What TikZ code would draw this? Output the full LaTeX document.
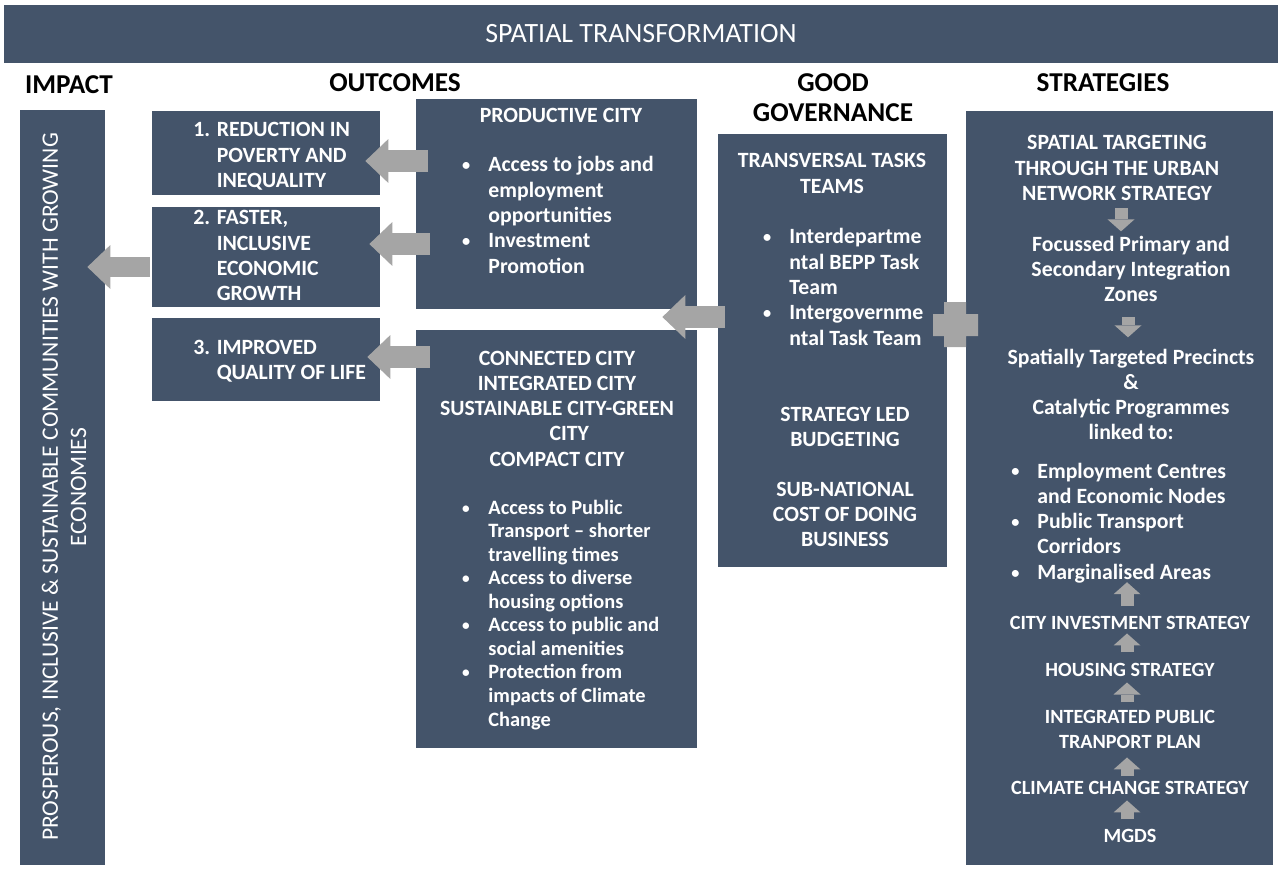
\documentclass[tikz,border=0pt]{standalone}
\usepackage{fontspec}
\setmainfont{Carlito}
\usetikzlibrary{arrows.meta,calc,positioning}
\definecolor{boxblue}{HTML}{44546A}
\definecolor{arrowgray}{HTML}{A5A5A5}
\newlength{\pxu}\setlength{\pxu}{0.02cm}
\newcommand{\itm}{\makebox[15.4pt][l]{\hspace*{0.5pt}\raisebox{0.6pt}{\scalebox{0.75}{\textbullet}}}}
\newcommand{\cnt}{\hspace*{15.4pt}}

\begin{document}
\begin{tikzpicture}[x=0.02cm, y=-0.02cm,
  box/.style={fill=boxblue, inner sep=0pt},
  txt/.style={text=white, inner sep=0pt, font=\bfseries\fontsize{12.4}{14.4}\selectfont},
  lst/.style={txt, align=left, anchor=base west},
  mid/.style={txt, align=center, anchor=base},
  lowcap/.style={font=\bfseries\fontsize{11.5}{14.2}\selectfont},
  head/.style={inner sep=0pt, align=center, font=\bfseries\fontsize{15.5}{17}\selectfont},
  bigarrow/.style={draw=arrowgray, line width=0.44cm, -{Triangle[length=0.46cm, width=0.88cm, line width=0pt]}},
  smallarrow/.style={draw=arrowgray, line width=0.26cm, -{Triangle[length=0.24cm, width=0.54cm, line width=0pt]}}]
  \useasboundingbox (0,0) rectangle (1283,878);

  % title bar and column heads
  \node[box, minimum width=1274\pxu, minimum height=58\pxu] (ttlbar) at (641,34) {};
  \node[text=white, inner sep=0pt, font=\fontsize{15.9}{18}\selectfont] (ttl) at (ttlbar) {SPATIAL TRANSFORMATION};
  \node[head] (hdimp) at (69,85) {IMPACT};
  \node[head] (hdout) at (395,83) {OUTCOMES};
  \node[head] (hdgov) at (833,98) {GOOD\\GOVERNANCE};
  \node[head] (hdstr) at (1103,83) {STRATEGIES};

  % boxes
  \node[box, minimum width=85\pxu, minimum height=755\pxu] (imp) at (62.5,487.5) {};
  \node[box, minimum width=228\pxu, minimum height=84\pxu] (out1) at (266,153) {};
  \node[box, minimum width=228\pxu, minimum height=100\pxu] (out2) at (266,257) {};
  \node[box, minimum width=228\pxu, minimum height=83\pxu] (out3) at (266,359.5) {};
  \node[box, minimum width=281\pxu, minimum height=210\pxu] (prod) at (556.5,204) {};
  \node[box, minimum width=281\pxu, minimum height=418\pxu] (conn) at (556.5,539) {};
  \node[box, minimum width=229\pxu, minimum height=433\pxu] (gov) at (832.5,350.5) {};
  \node[box, minimum width=307\pxu, minimum height=754\pxu] (strat) at (1119.5,488) {};

  % impact (placed at its centre)
  \node[text=white, rotate=90, align=center, inner sep=0pt, font=\fontsize{13.4}{16}\selectfont] (imptxt) at (64,487)
    {PROSPEROUS, INCLUSIVE \& SUSTAINABLE COMMUNITIES WITH GROWING\\ECONOMIES};

  % outcomes (multi-line texts sit on the baseline of their last line)
  \node[lst] (out1txt) at (193,187.6) {1. REDUCTION IN\\\phantom{1. }POVERTY AND\\\phantom{1. }INEQUALITY};
  \node[lst] (out2txt) at (193,300.9) {2. FASTER,\\\phantom{2. }INCLUSIVE\\\phantom{2. }ECONOMIC\\\phantom{2. }GROWTH};
  \node[lst] (out3txt) at (193,379.3) {3. IMPROVED\\\phantom{3. }QUALITY OF LIFE};

  \node[mid] (prodhd) at (561,123) {PRODUCTIVE CITY};
  \node[lst] (prodlst) at (461,273.2)
    {\itm Access to jobs and\\\cnt employment\\\cnt opportunities\\\itm Investment\\\cnt Promotion};

  \node[mid] (connhd) at (557,466.2)
    {CONNECTED CITY\\INTEGRATED CITY\\SUSTAINABLE CITY-GREEN\\\hspace*{14pt}CITY\\COMPACT CITY};
  \node[lst, font=\bfseries\fontsize{11.6}{13.4}\selectfont] (connlst) at (461,726)
    {\itm Access to Public\\\cnt Transport -- shorter\\\cnt travelling times\\
     \itm Access to diverse\\\cnt housing options\\\itm Access to public and\\\cnt social amenities\\
     \itm Protection from\\\cnt impacts of Climate\\\cnt Change};

  % governance
  \node[mid] (govhd) at (832,193.3) {TRANSVERSAL TASKS\\TEAMS};
  \node[lst] (govlst) at (762,345.2)
    {\itm Interdepartme\\\cnt ntal BEPP Task\\\cnt Team\\\itm Intergovernme\\\cnt ntal Task Team};
  \node[mid] (govbud) at (845,446.3) {STRATEGY LED\\BUDGETING};
  \node[mid] (govsub) at (845,546.6) {SUB-NATIONAL\\COST OF DOING\\BUSINESS};

  % strategies
  \node[mid] (strtop) at (1117,200.6) {SPATIAL TARGETING\\THROUGH THE URBAN\\NETWORK STRATEGY};
  \node[mid] (strfoc) at (1131,301.6) {Focussed Primary and\\Secondary Integration\\Zones};
  \node[mid] (strspa) at (1131,439.9) {Spatially Targeted Precincts\\\&\\Catalytic Programmes\\linked to:};
  \node[lst] (strlst) at (1010,579.2)
    {\itm Employment Centres\\\cnt and Economic Nodes\\\itm Public Transport\\\cnt Corridors\\\itm Marginalised Areas};
  \node[mid, lowcap] (strcis) at (1130,629) {CITY INVESTMENT STRATEGY};
  \node[mid, lowcap] (strhou) at (1130,676) {HOUSING STRATEGY};
  \node[mid, lowcap] (stript) at (1130,748) {INTEGRATED PUBLIC\\TRANPORT PLAN};
  \node[mid, lowcap] (strccs) at (1130,794) {CLIMATE CHANGE STRATEGY};
  \node[mid, lowcap] (strmgd) at (1130,842) {MGDS};

  % block arrows
  \draw[bigarrow] ($(prod.west |- out1.east)+(12,8)$) -- ($(out1.east)+(-15,8)$);
  \draw[bigarrow] ($(prod.west |- out2.east)+(14,-13)$) -- ($(out2.east)+(-11,-13)$);
  \draw[bigarrow] ($(conn.west |- out3.east)+(14,-2.5)$) -- ($(out3.east)+(-13,-2.5)$);
  \draw[bigarrow, line width=0.4cm] ($(out2.west)+(-2,10)$) -- ($(imp.east |- out2.west)+(-18,10)$);
  \draw[bigarrow] ($(gov.west)+(7,-33.5)$) -- ($(prod.east |- gov.west)+(-35,-33.5)$);
  \fill[arrowgray] (944,302) rectangle (966,347) (933,314) rectangle (978,336);

  \draw[smallarrow] ($(strtop.south -| 1121,0)+(0,7)$) -- ($(strfoc.north -| 1121,0)+(0,-4)$);
  \draw[smallarrow] ($(strfoc.south -| 1128,0)+(0,15)$) -- ($(strspa.north -| 1128,0)+(0,-11)$);
  \draw[smallarrow] ($(strcis.north -| 1127,0)+(0,-9)$) -- ($(strlst.south -| 1127,0)+(0,-1)$);
  \draw[smallarrow] ($(strhou.north -| 1127,0)+(0,-10)$) -- ($(strcis.south -| 1127,0)+(0,4)$);
  \draw[smallarrow] ($(stript.north -| 1127,0)+(0,-7)$) -- ($(strhou.south -| 1127,0)+(0,6)$);
  \draw[smallarrow] ($(strccs.north -| 1127,0)+(0,-4)$) -- ($(stript.south -| 1127,0)+(0,9)$);
  \draw[smallarrow] ($(strmgd.north -| 1127,0)+(0,-9)$) -- ($(strccs.south -| 1127,0)+(0,6)$);
\end{tikzpicture}
\end{document}
